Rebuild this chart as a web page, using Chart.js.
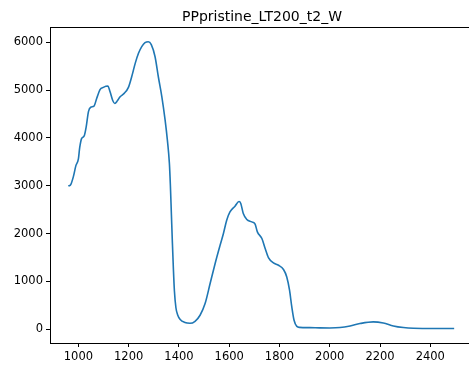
<!DOCTYPE html>
<html>
<head>
<meta charset="utf-8">
<script src="https://cdn.jsdelivr.net/npm/chart.js@4/dist/chart.umd.min.js"></script>
<style>
  html, body { margin: 0; padding: 0; background: #fff; }
  #wrap { width: 469px; height: 367px; position: relative; }
</style>
</head>
<body>
<div id="wrap"><canvas id="c" width="469" height="367"></canvas></div>
<script>
const chartTitle = "PPpristine_LT200_t2_W";
const wavelengths = [960, 970, 980, 990, 1000, 1005, 1013, 1023, 1031, 1040, 1049, 1062, 1073, 1086, 1099, 1117, 1126, 1137, 1145, 1155, 1166, 1182, 1199, 1212, 1226, 1239, 1252, 1265, 1278, 1290, 1305, 1318, 1332, 1345, 1354, 1362, 1366, 1370, 1374, 1378, 1382, 1388, 1395, 1405, 1424, 1444, 1464, 1484, 1504, 1524, 1544, 1564, 1577, 1590, 1603, 1623, 1639, 1646, 1656, 1670, 1690, 1703, 1712, 1730, 1743, 1756, 1776, 1796, 1816, 1829, 1840, 1849, 1858, 1869, 1880, 1920, 1960, 2000, 2041, 2081, 2120, 2173, 2213, 2253, 2293, 2333, 2400, 2495];
const intensity = [2990, 3030, 3190, 3420, 3560, 3790, 3990, 4040, 4230, 4550, 4640, 4665, 4830, 5010, 5056, 5084, 4965, 4776, 4720, 4776, 4860, 4930, 5056, 5278, 5558, 5768, 5907, 5990, 6011, 5950, 5697, 5278, 4860, 4372, 3954, 3467, 3000, 2400, 1800, 1250, 800, 450, 300, 203, 140, 125, 167, 293, 537, 956, 1374, 1760, 2002, 2280, 2454, 2573, 2670, 2630, 2420, 2295, 2245, 2197, 2036, 1897, 1688, 1500, 1387, 1339, 1249, 1094, 816, 467, 188, 60, 40, 35, 30, 28, 36, 70, 119, 155, 132, 70, 36, 21, 17, 15];
const xTicks = [1000, 1200, 1400, 1600, 1800, 2000, 2200, 2400];
const yTicks = [0, 1000, 2000, 3000, 4000, 5000, 6000];

const points = wavelengths.map((w, i) => ({ x: w, y: intensity[i] }));
const FONT = "'DejaVu Sans', sans-serif";

const framePlugin = {
  id: 'frame',
  afterDraw(chart) {
    const { ctx, chartArea: a } = chart;
    ctx.save();
    ctx.strokeStyle = '#000';
    ctx.lineWidth = 1;
    ctx.beginPath();
    ctx.moveTo(a.left, a.top + 0.5);
    ctx.lineTo(a.right, a.top + 0.5);
    ctx.stroke();
    ctx.fillStyle = '#000';
    ctx.font = "14px " + FONT;
    ctx.textAlign = 'center';
    ctx.textBaseline = 'alphabetic';
    ctx.fillText(chartTitle, 262, 21);
    ctx.restore();
  }
};

new Chart(document.getElementById('c'), {
  type: 'line',
  data: {
    datasets: [{
      data: points,
      borderColor: '#1f77b4',
      borderWidth: 1.6,
      pointRadius: 0,
      fill: false,
      cubicInterpolationMode: 'monotone'
    }]
  },
  options: {
    responsive: false,
    animation: false,
    layout: { padding: { top: 27, left: 0, right: 0, bottom: 0 } },
    plugins: { legend: { display: false }, tooltip: { enabled: false }, title: { display: false } },
    scales: {
      x: {
        type: 'linear',
        min: 887,
        max: 2554,
        afterBuildTicks: s => { s.ticks = xTicks.map(v => ({ value: v })); },
        afterFit: s => { s.height = 24; },
        grid: { drawOnChartArea: false, tickLength: 4, tickColor: '#000', tickWidth: 1 },
        border: { display: true, color: '#000', width: 1 },
        ticks: { color: '#000', font: { family: FONT, size: 11.5 }, padding: 3, maxRotation: 0, callback: v => String(v) }
      },
      y: {
        type: 'linear',
        min: -287,
        max: 6318,
        afterBuildTicks: s => { s.ticks = yTicks.map(v => ({ value: v })); },
        afterFit: s => { s.width = 50; },
        grid: { drawOnChartArea: false, tickLength: 4, tickColor: '#000', tickWidth: 1 },
        border: { display: true, color: '#000', width: 1 },
        ticks: { color: '#000', font: { family: FONT, size: 11.5 }, padding: 3, callback: v => String(v) }
      }
    }
  },
  plugins: [framePlugin]
});
</script>
</body>
</html>
